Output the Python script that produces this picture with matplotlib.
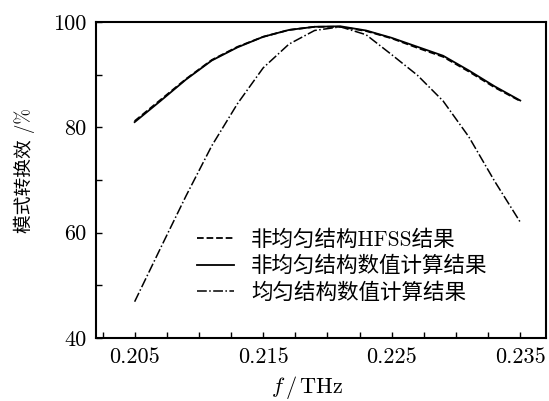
import numpy as np
import matplotlib
matplotlib.use("Agg")
import matplotlib.pyplot as plt
from matplotlib.ticker import MultipleLocator, FixedLocator

plt.rcParams['font.family'] = ['cmr10', 'Noto Sans CJK SC', 'DejaVu Sans']
plt.rcParams['mathtext.fontset'] = 'cm'
plt.rcParams['axes.formatter.use_mathtext'] = True

# ---- 数据----
freq = [0.205, 0.207, 0.209, 0.211, 0.213, 0.215, 0.217, 0.219,
        0.221, 0.223, 0.225, 0.227, 0.229, 0.231, 0.233, 0.235]

hfss_nonuniform = [81.2, 85.2, 89.2, 92.8, 95.3, 97.2, 98.5, 99.1,
                   99.1, 98.3, 96.9, 95.1, 93.4, 90.6, 87.6, 85.0]
calc_nonuniform = [81.0, 85.0, 89.1, 92.7, 95.2, 97.2, 98.5, 99.1,
                   99.2, 98.4, 97.0, 95.3, 93.6, 90.8, 87.8, 85.1]
calc_uniform = [46.9, 57.0, 67.0, 76.5, 84.5, 91.3, 95.8, 98.4,
                99.1, 97.6, 93.8, 89.9, 85.0, 78.2, 69.8, 62.0]

labels = ['非均匀结构HFSS结果', '非均匀结构数值计算结果', '均匀结构数值计算结果']
xticks = [0.205, 0.215, 0.225, 0.235]
yticks = [40, 60, 80, 100]

fig = plt.figure(figsize=(5.49, 4.01), dpi=100)
ax = fig.add_axes([0.175, 0.157, 0.8195, 0.788])

ax.plot(freq, hfss_nonuniform, 'k--', lw=1.3, label=labels[0])
ax.plot(freq, calc_nonuniform, 'k-', lw=1.3, label=labels[1])
ax.plot(freq, calc_uniform, 'k-.', lw=1.1, label=labels[2])

ax.set_xlim(0.202, 0.237)
ax.set_ylim(40, 100)

ax.xaxis.set_major_locator(FixedLocator(xticks))
ax.xaxis.set_minor_locator(MultipleLocator(0.0025))
ax.yaxis.set_major_locator(FixedLocator(yticks))
ax.yaxis.set_minor_locator(MultipleLocator(10))
ax.set_xticklabels([f'{v:.3f}' for v in xticks])
ax.set_yticklabels([str(v) for v in yticks])

ax.tick_params(which='both', direction='in', top=False, right=False,
               length=4, width=1.0, labelsize=16, pad=7)
for sp in ax.spines.values():
    sp.set_linewidth(1.5)

ax.set_xlabel(r'$f\,/\,\mathrm{THz}$', fontsize=16)
ax.xaxis.set_label_coords(0.469, -0.115)
ax.set_ylabel('模式转换效 /%', fontsize=13.5)
ax.yaxis.set_label_coords(-0.136, 0.53)

ax.legend(loc='upper left', bbox_to_anchor=(0.225, 0.345), frameon=False,
          fontsize=15.5, handlelength=1.7, handletextpad=0.8,
          borderpad=0, borderaxespad=0, labelspacing=0.29)

fig.savefig('out.png', dpi=100)
